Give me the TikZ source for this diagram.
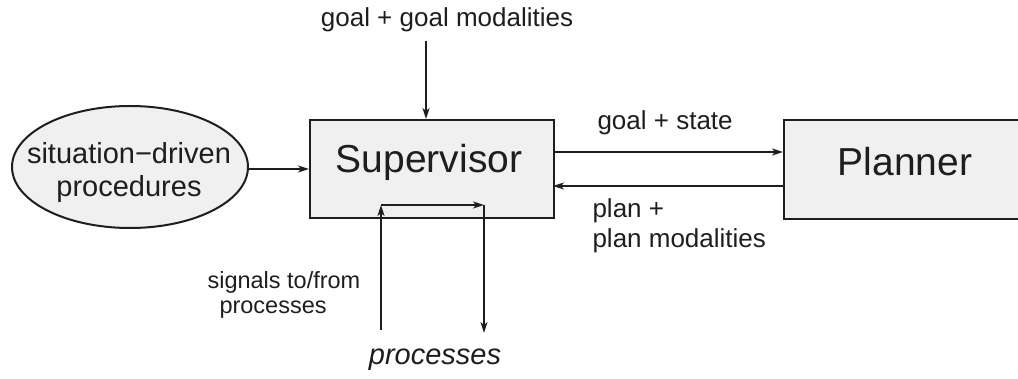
\documentclass[tikz,border=0pt]{standalone}
\usepackage{fontspec}
\setmainfont{Liberation Sans}
\usetikzlibrary{shapes.geometric,arrows.meta}
\definecolor{boxfill}{HTML}{F0F0F0}
\definecolor{ink}{HTML}{1E1E1E}
\tikzset{
  block/.style={draw=ink, line width=2.2pt, fill=boxfill, inner sep=0pt, anchor=north west},
  oval/.style={ellipse, draw=ink, line width=2pt, fill=boxfill, minimum width=236pt, minimum height=122pt, inner sep=0pt},
  flow/.style={draw=ink, line width=1.8pt, -{Stealth[length=11pt, width=7pt, inset=3pt]}},
  wire/.style={draw=ink, line width=1.8pt},
  big/.style={font=\fontsize{39}{44}\selectfont, text=ink},
  small/.style={font=\fontsize{26}{30}\selectfont, text=ink},
  tiny/.style={font=\fontsize{23.5}{28}\selectfont, text=ink},
}
\begin{document}
\begin{tikzpicture}[x=1pt, y=-1pt]
  \useasboundingbox (0,0) rectangle (1018,379);

  % main blocks
  \node[block, minimum width=244pt, minimum height=98pt] (sup) at (309,119) {};
  \node[big] at (429,162) {Supervisor};
  \begin{scope}
    \clip (0,0) rectangle (1018,379);
    \node[block, minimum width=250pt, minimum height=99pt] (plan) at (783,119) {};
  \end{scope}
  \node[big] at (905,162) {Planner};

  \node[oval] (sdp) at (130,167) {};
  \node[small, font=\fontsize{29}{33}\selectfont, align=center] at (129,173)
    {situation\textminus driven\\procedures};

  % goal input from above
  \coordinate (goaltop) at (426,41);
  \node[small] (goal) at (447,20) {goal + goal modalities};
  \draw[flow] (goaltop) -- (sup.north west -| goaltop);

  % situation-driven procedures into the supervisor
  \coordinate (sdpout) at (248,169);
  \draw[flow] (sdpout) -- (sup.west |- sdpout);

  % exchange with the planner
  \coordinate (gsL) at (553,152);
  \coordinate (gsR) at (783,152);
  \coordinate (ppL) at (553,186);
  \coordinate (ppR) at (783,186);
  \draw[flow] (gsL) -- (gsR);
  \draw[flow] (ppR) -- (ppL);
  \node[small, anchor=west] (gslabel) at (594,123) {goal + state};
  \node[small, anchor=west, align=left] (pplabel) at (589,226) {plan +\\plan modalities};

  % signals loop to/from processes
  \coordinate (sigIn) at (381,330);
  \coordinate (sigA) at (381,205);
  \coordinate (sigB) at (484,205);
  \coordinate (sigOut) at (484,333);
  \draw[flow] (sigIn) -- (sigA);
  \draw[flow] (sigA) -- (sigB);
  \draw[flow] (sigB) -- (sigOut);
  \node[tiny, anchor=west] (siglabel1) at (204,282) {signals to/from};
  \node[tiny, anchor=west] (siglabel2) at (216,310) {processes};
  \node[small, font=\fontsize{29}{33}\itshape] (proc) at (435,360) {processes};
\end{tikzpicture}
\end{document}
